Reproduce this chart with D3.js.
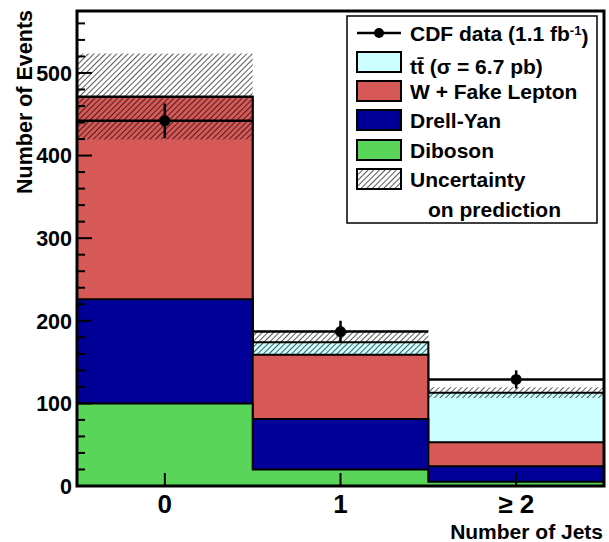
<!DOCTYPE html>
<html>
<head>
<meta charset="utf-8">
<script src="https://cdn.jsdelivr.net/npm/d3@7"></script>
<style>
	body { margin: 0; background: #fff; }
	text { font-family: 'Liberation Sans', Arial, sans-serif; font-weight: bold; }
</style>
</head>
<body>
<div id="chart"></div>
<script>

// jet multiplicity bins
const categories = ['0', '1', '\u2265 2']

// stacked backgrounds (events per bin)
const diboson = [100, 20, 5]
const drellYan = [126, 61, 19]
const fakeLepton = [245, 78, 29]
const ttbar = [0.5, 15, 60]

// uncertainty on the total prediction
const uncertainty = [52, 14.5, 6.5]

// CDF data and its error bars
const cdfData = [442, 187, 129]
const cdfError = [21, 13, 11]

const yMajorTicks = [0, 100, 200, 300, 400, 500]

var width = 609
var height = 542
var margin = { top: 11, right: 5, bottom: 56, left: 77 }

var svg = d3.select('#chart')
	.append('svg')
	.attr('width', width)
	.attr('height', height)

var x = d3.scaleBand()
	.domain(categories)
	.range([margin.left, width - margin.right])
	.paddingInner(0)
	.paddingOuter(0)

var y = d3.scaleLinear()
	.domain([0, 575])
	.range([height - margin.bottom, margin.top])

// hatch pattern for the uncertainty band
var defs = svg.append('defs')
defs.append('pattern')
	.attr('id', 'hatch')
	.attr('patternUnits', 'userSpaceOnUse')
	.attr('width', 4)
	.attr('height', 4)
	.attr('patternTransform', 'rotate(45)')
	.append('line')
	.attr('x1', 0).attr('y1', 0)
	.attr('x2', 0).attr('y2', 4)
	.attr('stroke', '#000')
	.attr('stroke-width', 1.3)

// build stack table from the arrays
var rows = categories.map((c, i) => ({
	cat: c,
	diboson: diboson[i],
	drellYan: drellYan[i],
	fake: fakeLepton[i],
	ttbar: ttbar[i]
}))

var keys = ['diboson', 'drellYan', 'fake', 'ttbar']
var colors = {
	diboson: 'rgb(89, 214, 89)',
	drellYan: 'rgb(0, 0, 153)',
	fake: 'rgb(214, 89, 87)',
	ttbar: 'rgb(204, 255, 255)'
}
var stacked = d3.stack().keys(keys)(rows)

var line = d3.line()

// each layer drawn as a step histogram from zero up to its cumulative top
function stepPoints(layer) {
	var pts = [[x(categories[0]), y(0)]]
	layer.forEach((d, i) => {
		var x0 = x(categories[i])
		pts.push([x0, y(d[1])])
		pts.push([x0 + x.bandwidth(), y(d[1])])
	})
	pts.push([x(categories[categories.length - 1]) + x.bandwidth(), y(0)])
	return pts
}

svg.append('g')
	.selectAll('path')
	.data(stacked.slice().reverse())
	.enter()
	.append('path')
	.attr('d', d => line(stepPoints(d)) + 'Z')
	.attr('fill', d => colors[d.key])
	.attr('stroke', '#000')
	.attr('stroke-width', 2)

// uncertainty band around total prediction
var totals = rows.map(r => keys.reduce((s, k) => s + r[k], 0))
svg.append('g')
	.selectAll('rect')
	.data(totals)
	.enter()
	.append('rect')
	.attr('x', (d, i) => x(categories[i]))
	.attr('width', x.bandwidth())
	.attr('y', (d, i) => y(d + uncertainty[i]))
	.attr('height', (d, i) => y(d - uncertainty[i]) - y(d + uncertainty[i]))
	.attr('fill', 'url(#hatch)')

// data points
var pts = svg.append('g')
pts.selectAll('.hbar')
	.data(cdfData)
	.enter()
	.append('line')
	.attr('x1', (d, i) => x(categories[i]))
	.attr('x2', (d, i) => x(categories[i]) + x.bandwidth())
	.attr('y1', d => y(d))
	.attr('y2', d => y(d))
	.attr('stroke', '#000')
	.attr('stroke-width', 2.5)
pts.selectAll('.vbar')
	.data(cdfData)
	.enter()
	.append('line')
	.attr('x1', (d, i) => x(categories[i]) + x.bandwidth() / 2)
	.attr('x2', (d, i) => x(categories[i]) + x.bandwidth() / 2)
	.attr('y1', (d, i) => y(d - cdfError[i]))
	.attr('y2', (d, i) => y(d + cdfError[i]))
	.attr('stroke', '#000')
	.attr('stroke-width', 2.5)
pts.selectAll('circle')
	.data(cdfData)
	.enter()
	.append('circle')
	.attr('cx', (d, i) => x(categories[i]) + x.bandwidth() / 2)
	.attr('cy', d => y(d))
	.attr('r', 5.5)
	.attr('fill', '#000')

// frame
var x0 = margin.left, x1 = width - margin.right
var y0 = height - margin.bottom, y1 = margin.top
svg.append('rect')
	.attr('x', x0)
	.attr('y', y1)
	.attr('width', x1 - x0)
	.attr('height', y0 - y1)
	.attr('fill', 'none')
	.attr('stroke', '#000')
	.attr('stroke-width', 3)

// y ticks, drawn inside the frame
var yTicks = svg.append('g')
yTicks.selectAll('line')
	.data(y.ticks(30).filter(t => t % 20 == 0))
	.enter()
	.append('line')
	.attr('x1', x0)
	.attr('x2', d => x0 + (d % 100 == 0 ? 15 : 8))
	.attr('y1', d => y(d))
	.attr('y2', d => y(d))
	.attr('stroke', '#000')
	.attr('stroke-width', 2)
yTicks.selectAll('text')
	.data(yMajorTicks)
	.enter()
	.append('text')
	.attr('x', x0 - 5)
	.attr('y', d => y(d))
	.attr('dy', '0.36em')
	.attr('text-anchor', 'end')
	.style('font-size', '21.5px')
	.text(d => d)

// x ticks at bin centres
var xTicks = svg.append('g')
xTicks.selectAll('line')
	.data(categories)
	.enter()
	.append('line')
	.attr('x1', d => x(d) + x.bandwidth() / 2)
	.attr('x2', d => x(d) + x.bandwidth() / 2)
	.attr('y1', y0)
	.attr('y2', y0 - 13)
	.attr('stroke', '#000')
	.attr('stroke-width', 2)
xTicks.selectAll('text')
	.data(categories)
	.enter()
	.append('text')
	.attr('x', d => x(d) + x.bandwidth() / 2)
	.attr('y', 513)
	.attr('text-anchor', 'middle')
	.style('font-size', '26px')
	.text(d => d)

// axis titles
svg.append('text')
	.attr('transform', 'translate(32,10) rotate(-90)')
	.attr('text-anchor', 'end')
	.style('font-size', '21.5px')
	.text('Number of Events')

svg.append('text')
	.attr('x', 603)
	.attr('y', 539)
	.attr('text-anchor', 'end')
	.style('font-size', '21px')
	.text('Number of Jets')

// legend
var legend = svg.append('g')
legend.append('rect')
	.attr('x', 347)
	.attr('y', 16)
	.attr('width', 250)
	.attr('height', 207)
	.attr('fill', '#fff')
	.attr('stroke', '#000')
	.attr('stroke-width', 1.5)

var entries = [
	{ type: 'data', y: 33 },
	{ type: 'fill', key: 'ttbar', y: 62 },
	{ type: 'fill', key: 'fake', label: 'W + Fake Lepton', y: 91 },
	{ type: 'fill', key: 'drellYan', label: 'Drell-Yan', y: 120 },
	{ type: 'fill', key: 'diboson', label: 'Diboson', y: 150 },
	{ type: 'hatch', label: 'Uncertainty', y: 179 }
]

entries.forEach(e => {
	if (e.type == 'data') {
		legend.append('line')
			.attr('x1', 357).attr('x2', 401)
			.attr('y1', e.y).attr('y2', e.y)
			.attr('stroke', '#000')
			.attr('stroke-width', 2.5)
		legend.append('circle')
			.attr('cx', 379).attr('cy', e.y)
			.attr('r', 5)
			.attr('fill', '#000')
	} else {
		legend.append('rect')
			.attr('x', 357).attr('y', e.y - 10)
			.attr('width', 44).attr('height', 20)
			.attr('fill', e.type == 'hatch' ? 'url(#hatch)' : colors[e.key])
			.attr('stroke', '#000')
			.attr('stroke-width', 2)
	}
})

var lt = (yy) => legend.append('text')
	.attr('x', 410)
	.attr('y', yy)
	.attr('dy', '0.36em')
	.style('font-size', '21px')

var t1 = lt(33)
t1.append('tspan').text('CDF data (1.1 fb')
t1.append('tspan').attr('dy', '-0.45em').style('font-size', '13px').text('-1')
t1.append('tspan').attr('dy', '0.45em').text(')')

var t2 = lt(66)
t2.text('tt\u0304 (\u03c3 = 6.7 pb)')

lt(91).text('W + Fake Lepton')
lt(120).text('Drell-Yan')
lt(150).text('Diboson')
lt(179).text('Uncertainty')
legend.append('text')
	.attr('x', 428)
	.attr('y', 209)
	.attr('dy', '0.36em')
	.style('font-size', '21px')
	.text('on prediction')

</script>
</body>
</html>
